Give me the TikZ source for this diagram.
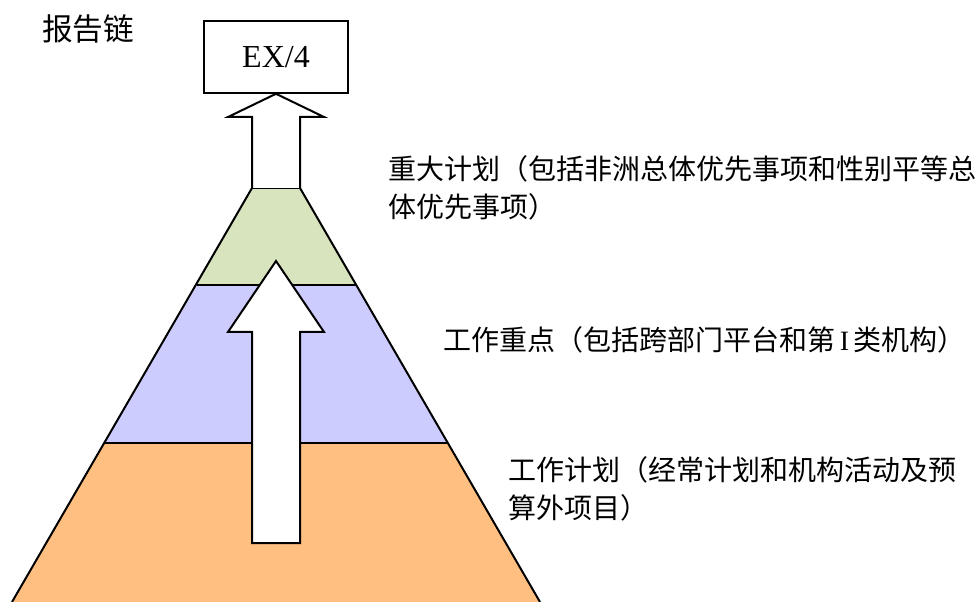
\documentclass[tikz,border=0pt]{standalone}
\usepackage{fontspec}
\setmainfont{Liberation Serif}
\newfontfamily\cjk{Noto Sans CJK SC}
\usepackage{tikz}

\definecolor{layergreen}{HTML}{D7E4BD}
\definecolor{layerblue}{HTML}{CCCCFF}
\definecolor{layerorange}{HTML}{FFBF80}

\tikzset{
  layer/.style={draw=black,line width=1.5pt,line join=miter},
  blockarrow/.style={draw=black,fill=white,line width=1.5pt},
  note/.style={anchor=west,align=left,inner sep=0pt,font=\cjk\fontsize{21}{28}\selectfont},
}

\begin{document}
\begin{tikzpicture}[x=0.75pt,y=-0.75pt]
      \useasboundingbox (0,0) rectangle (979,602);
      % pyramid, bottom to top
      \fill[layerorange] (104,443)--(448,443)--(540,602)--(12,602)--cycle;
      \fill[layerblue] (197,285)--(356,285)--(448,443)--(104,443)--cycle;
      \fill[layergreen] (252,188)--(300,188)--(356,285)--(197,285)--cycle;
      \draw[layer] (12,602)--(252,188)--(300,188)--(540,602);
      \draw[layer] (197,285)--(356,285);
      \draw[layer] (104,443)--(448,443);
      % arrows
      \draw[blockarrow] (252,543)--(252,332)--(228,332)--(276,261)--(324,332)--(300,332)--(300,543)--cycle;
      \node[draw,line width=1.2pt,minimum width=144*0.75pt,minimum height=72*0.75pt,inner sep=0pt,
            font=\fontsize{24}{28}\selectfont] (ex) at (276,57) {EX/4};
      \draw[blockarrow] (252,188)--(252,117)--(228,117)--(ex.south)--(324,117)--(300,117)--(300,188);
      % labels
      \node[anchor=west,inner sep=0pt,font=\cjk\fontsize{23}{28}\selectfont] (title) at (42,29) {报告链};
      \node[note] (major) at (388,188) {重大计划（包括非洲总体优先事项和性别平等总\\体优先事项）};
      \node[note] (focus) at (443,340) {工作重点（包括跨部门平台和第\,{\rmfamily I}\,类机构）};
      \node[note] (work) at (508,489) {工作计划（经常计划和机构活动及预\\算外项目）};
    \end{tikzpicture}
\end{document}
